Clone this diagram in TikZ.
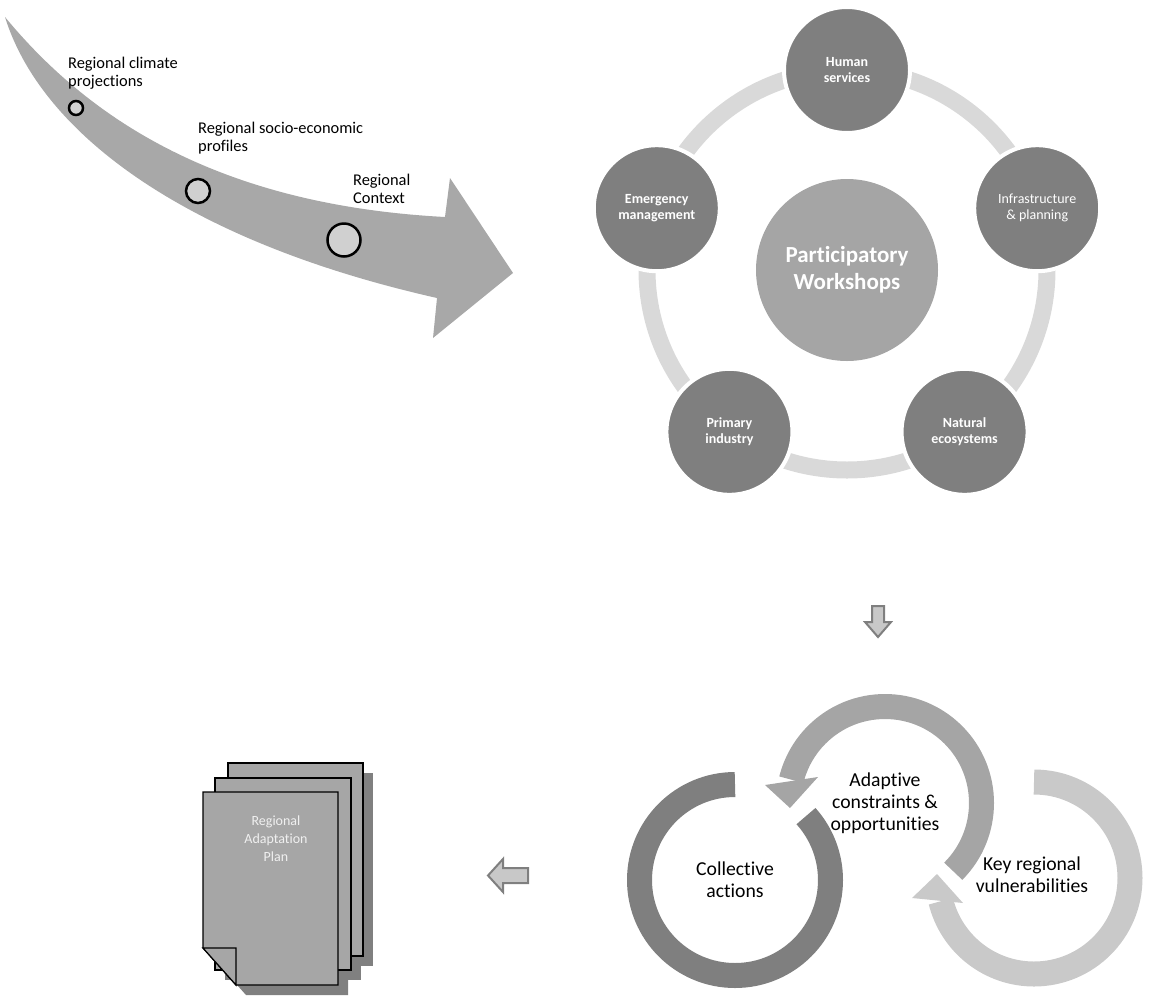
\documentclass[tikz,border=0pt]{standalone}
\usepackage{fontspec}
\setmainfont[Ligatures=NoCommon]{Carlito}
\usetikzlibrary{calc}
\definecolor{bigarrow}{HTML}{A8A8A8}
\definecolor{dotfill}{HTML}{D0D0D0}
\definecolor{ringgrey}{HTML}{D9D9D9}
\definecolor{secgrey}{HTML}{7F7F7F}
\definecolor{centgrey}{HTML}{A5A5A5}
\definecolor{darkarc}{HTML}{7F7F7F}
\definecolor{midarc}{HTML}{A5A5A5}
\definecolor{lightarc}{HTML}{C9C9C9}
\definecolor{pagegrey}{HTML}{A6A6A6}
\definecolor{shadowgrey}{HTML}{808080}
\definecolor{blockfill}{HTML}{C8C8C8}
\definecolor{blockline}{HTML}{7F7F7F}
\begin{document}
\begin{tikzpicture}[x=1pt,y=1pt,
  lbl/.style={font=\fontsize{16.4}{17.7}\selectfont, align=left, inner sep=0pt, anchor=north west},
  dot/.style={circle, draw=black, line width=2.5pt, fill=dotfill, inner sep=0pt},
  sector/.style={circle, fill=secgrey, draw=white, line width=4pt, minimum size=126pt, inner sep=0pt, text=white, align=center, font=\fontsize{14}{16}\selectfont\bfseries},
  cyclbl/.style={font=\fontsize{19.7}{22}\selectfont, align=center, inner sep=0pt, text=black},
  page/.style={fill=pagegrey, draw=black, line width=1.2pt, line join=miter},
  blockarrow/.style={fill=blockfill, draw=blockline, line width=2pt, line join=miter}
]
\useasboundingbox (0,0) rectangle (1176,-997);

% ---- big curved arrow ----
\fill[bigarrow] (5,-17) .. controls (90,-120) and (220,-205) .. (445,-217)
  -- (450,-178) -- (513,-273) -- (433,-338) -- (437,-298)
  .. controls (180,-240) and (40,-130) .. (5,-17) -- cycle;
\node[dot, minimum size=14pt] (d1) at (76,-108) {};
\node[dot, minimum size=24pt] (d2) at (198,-191) {};
\node[dot, minimum size=33pt] (d3) at (344,-240) {};
\node[lbl] (t1) at (68,-57) {Regional climate\\projections};
\node[lbl] (t2) at (198,-122) {Regional socio-economic\\profiles};
\node[lbl] (t3) at (353,-174) {Regional\\Context};

% ---- participatory workshops ----
\coordinate (pc) at (847,-270);
\draw[ringgrey, line width=17pt] (pc) circle[radius=200];
\node[circle, fill=centgrey, minimum size=182pt, inner sep=0pt, text=white, align=center,
  font=\fontsize{23}{27}\selectfont\bfseries] (pw) at (pc) {Participatory\\Workshops};
\node[sector] (hs) at ($(pc)+(90:200)$) {Human\\services};
\node[sector, font=\fontsize{14}{16}\selectfont] (ip) at ($(pc)+(18:200)$) {Infrastructure\\\&{} planning};
\node[sector] (ne) at ($(pc)+(-54:200)$) {Natural\\ecosystems};
\node[sector] (pi) at ($(pc)+(-126:200)$) {Primary\\industry};
\node[sector] (em) at ($(pc)+(162:200)$) {Emergency\\management};

% ---- small block arrows ----
\filldraw[blockarrow] (872,-606) -- (884,-606) -- (884,-622) -- (891,-622) -- (878,-637)
  -- (865,-622) -- (872,-622) -- cycle;
\filldraw[blockarrow] (528,-868) -- (528,-883) -- (503,-883) -- (503,-892) -- (488,-875.5)
  -- (503,-859) -- (503,-868) -- cycle;

% ---- cycle of three arcs ----
\coordinate (L) at (735,-880);
\coordinate (M) at (885,-803);
\coordinate (R) at (1034,-878);
\draw[darkarc, line width=25pt] ($(L)+(90:95.5)$) arc[start angle=90, end angle=402, radius=95.5];
\draw[midarc, line width=25pt] ($(M)+(-45:96.5)$) arc[start angle=-45, end angle=166, radius=96.5];
\fill[midarc] (765,-785) -- (818,-777) -- (790,-808) -- cycle;
\draw[lightarc, line width=25pt] ($(R)+(90:96)$) arc[start angle=90, end angle=-166, radius=96];
\fill[lightarc] (912,-898) -- (963,-903) -- (937,-874) -- cycle;
\node[cyclbl] (ca) at (L) {Collective\\actions};
\node[cyclbl] (ac) at (M) {Adaptive\\constraints \&\\opportunities};
\node[cyclbl] (kv) at (1032,-875) {Key regional\\vulnerabilities};

% ---- document stack ----
\fill[shadowgrey] (238,-773) rectangle (373,-966);
\fill[shadowgrey] (225,-788) rectangle (361,-980);
\fill[shadowgrey] (213,-802) -- (348,-802) -- (348,-995) -- (246,-995) -- (213,-958) -- cycle;
\filldraw[page] (228,-763) rectangle (363,-956);
\filldraw[page] (215,-778) rectangle (351,-970);
\filldraw[page] (203,-792) -- (338,-792) -- (338,-985) -- (236,-985) -- (203,-948) -- cycle;
\filldraw[page] (203,-948) -- (236,-948) -- (236,-985) -- cycle;
\node[text=white!94!black, align=center, inner sep=0pt, font=\fontsize{14}{18}\selectfont] (rap) at (276,-839) {Regional\\Adaptation\\Plan};
\end{tikzpicture}
\end{document}
